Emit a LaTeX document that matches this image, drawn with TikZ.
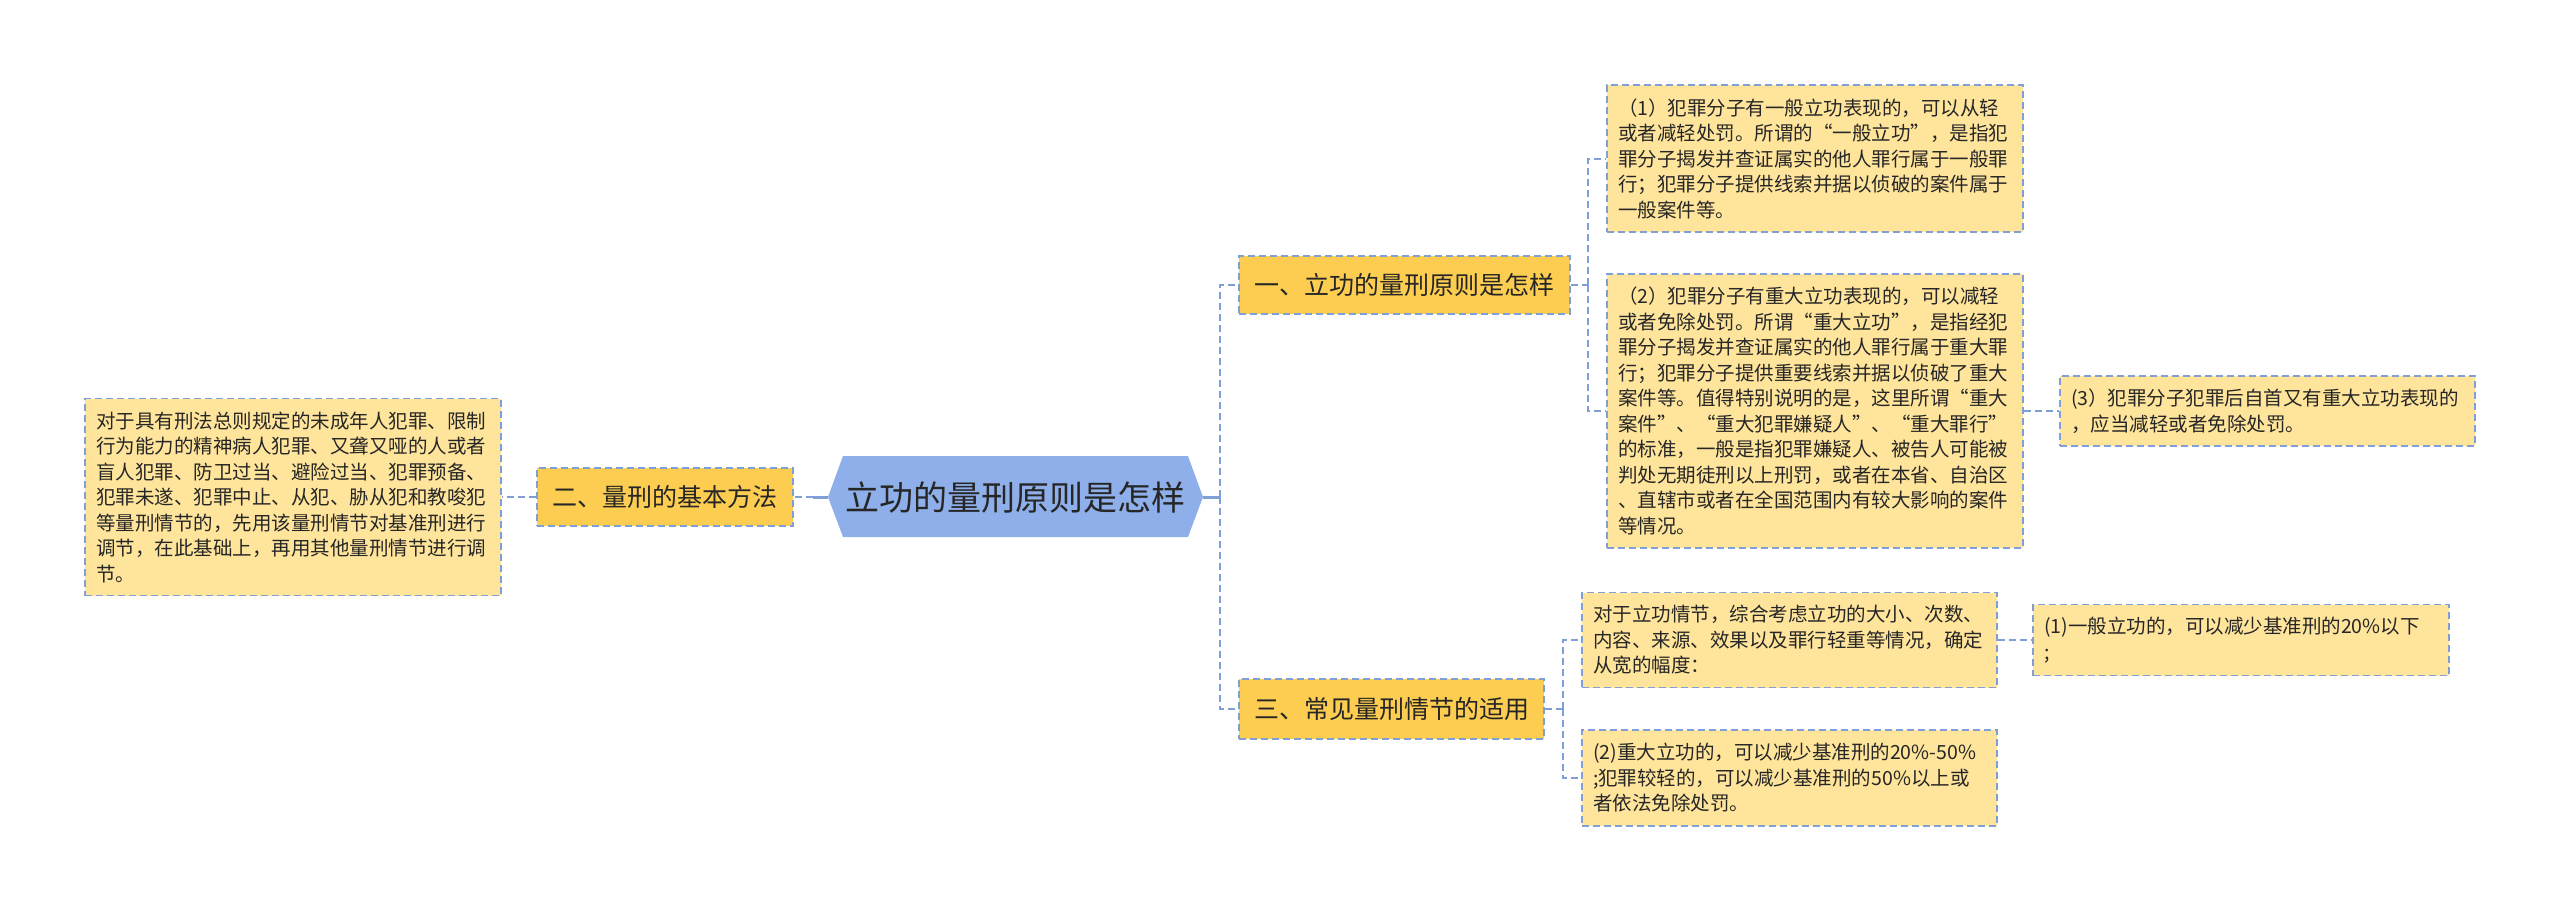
\documentclass[tikz,border=0pt]{standalone}
\usepackage{fontspec}
\setmainfont{Noto Sans CJK SC}
\definecolor{linec}{HTML}{7F9FD6}
\definecolor{lvone}{HTML}{FCCD50}
\definecolor{leafc}{HTML}{FFE59C}
\definecolor{hexc}{HTML}{8EAFE9}
\definecolor{txtc}{HTML}{262626}
\begin{document}
\begin{tikzpicture}[x=0.5pt,y=-0.5pt,
  conn/.style={draw=linec, line width=1pt, dash pattern=on 3.5pt off 2pt},
  solidconn/.style={draw=linec, line width=1.5pt},
  boxbase/.style={draw=linec, line width=0.75pt, dash pattern=on 3.5pt off 2pt, inner ysep=0pt, anchor=center, text=txtc},
  lvbox/.style={boxbase, fill=lvone, minimum height=29pt, inner xsep=0pt, font=\fontsize{12.5pt}{15pt}\selectfont},
  leafbox/.style={boxbase, fill=leafc, align=left, inner xsep=5.5pt, text width=197pt, font=\fontsize{9.75pt}{12.75pt}\selectfont},
]
\path[use as bounding box] (0,0) rectangle (2560,911);

% central hexagon
\fill[hexc] (828,497) -- (843,456) -- (1188,456) -- (1203,497) -- (1188,537) -- (843,537) -- cycle;
\node[text=txtc, font=\fontsize{17pt}{20pt}\selectfont] (hex) at (1015.5,497) {立功的量刑原则是怎样};
\coordinate (hexL) at (828,497);
\coordinate (hexR) at (1203,497);

% level one
\node[lvbox, minimum width=128pt] (b2) at (665,497) {二、量刑的基本方法};
\node[lvbox, minimum width=165.5pt] (b1) at (1404.5,285) {一、立功的量刑原则是怎样};
\node[lvbox, minimum width=152.5pt, minimum height=30pt] (b3) at (1391.5,709) {三、常见量刑情节的适用};

% leaves
\node[leafbox, minimum height=98.5pt] (lbox) at (293,497) {对于具有刑法总则规定的未成年人犯罪、限制\\行为能力的精神病人犯罪、又聋又哑的人或者\\盲人犯罪、防卫过当、避险过当、犯罪预备、\\犯罪未遂、犯罪中止、从犯、胁从犯和教唆犯\\等量刑情节的，先用该量刑情节对基准刑进行\\调节，在此基础上，再用其他量刑情节进行调\\节。};

\node[leafbox, minimum height=73.5pt] (p1) at (1815,158.5) {（1）犯罪分子有一般立功表现的，可以从轻\\或者减轻处罚。所谓的“一般立功”，是指犯\\罪分子揭发并查证属实的他人罪行属于一般罪\\行；犯罪分子提供线索并据以侦破的案件属于\\一般案件等。};

\node[leafbox, minimum height=137pt] (p2) at (1815,411) {（2）犯罪分子有重大立功表现的，可以减轻\\或者免除处罚。所谓“重大立功”，是指经犯\\罪分子揭发并查证属实的他人罪行属于重大罪\\行；犯罪分子提供重要线索并据以侦破了重大\\案件等。值得特别说明的是，这里所谓“重大\\案件”、“重大犯罪嫌疑人”、“重大罪行”\\的标准，一般是指犯罪嫌疑人、被告人可能被\\判处无期徒刑以上刑罚，或者在本省、自治区\\、直辖市或者在全国范围内有较大影响的案件\\等情况。};

\node[leafbox, text width=196.5pt, minimum height=35pt] (p3) at (2267.5,411) {(3）犯罪分子犯罪后自首又有重大立功表现的\\，应当减轻或者免除处罚。};

\node[leafbox, text width=196.5pt, minimum height=47.5pt] (q1) at (1789.5,640) {对于立功情节，综合考虑立功的大小、次数、\\内容、来源、效果以及罪行轻重等情况，确定\\从宽的幅度：};

\node[leafbox, text width=196.5pt, minimum height=48pt] (q2) at (1789.5,778) {(2)重大立功的，可以减少基准刑的20\%-50\%\\;犯罪较轻的，可以减少基准刑的50\%以上或\\者依法免除处罚。};

\node[leafbox, text width=197pt, minimum height=35.5pt] (q3) at (2241,640) {(1)一般立功的，可以减少基准刑的20\%以下\\;};

% connectors
\coordinate (jr) at (1220,497);
\coordinate (jl) at (813,497);
\coordinate (j1) at (1588,285);
\coordinate (j3) at (1563,709);

\draw[solidconn] (hexR) -- (jr);
\draw[conn] (jr) |- (b1.west);
\draw[conn] (jr) |- (b3.west);

\draw[solidconn] (hexL) -- (jl);
\draw[conn] (jl) -- (b2.east);
\draw[conn] (b2.west) -- (lbox.east);

\draw[conn] (b1.east) -- (j1);
\draw[conn] (j1) |- (p1.west);
\draw[conn] (j1) |- (p2.west);
\draw[conn] (p2.east) -- (p3.west);

\draw[conn] (b3.east) -- (j3);
\draw[conn] (j3) |- (q1.west);
\draw[conn] (j3) |- (q2.west);
\draw[conn] (q1.east) -- (q3.west);
\end{tikzpicture}
\end{document}
